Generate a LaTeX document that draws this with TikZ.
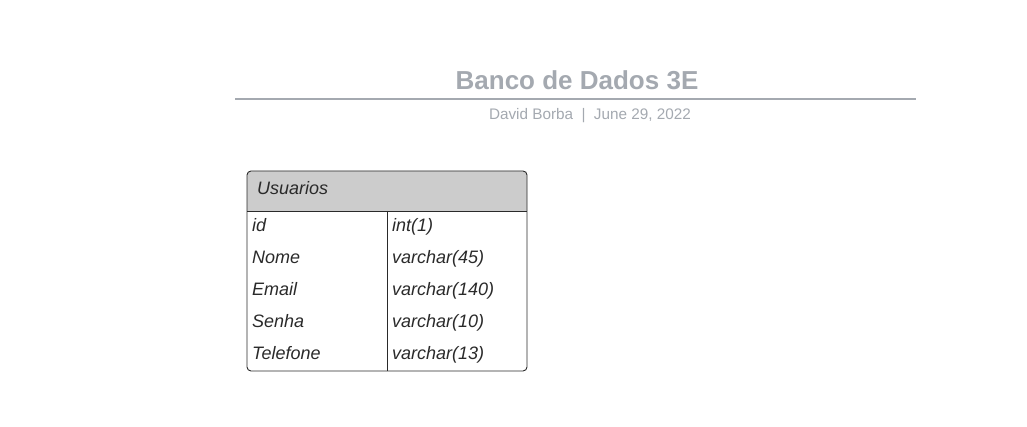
\documentclass[tikz,border=0pt]{standalone}
\usepackage{fontspec}
\setmainfont{Liberation Sans}
\definecolor{titlegray}{HTML}{A4A9B0}
\definecolor{hdrfill}{HTML}{CCCCCC}
\definecolor{ink}{HTML}{2A2A2A}
\begin{document}
\begin{tikzpicture}[x=1pt,y=-1pt,
  celltext/.style={anchor=base west,inner sep=0pt,text=ink,font=\fontsize{18}{21}\selectfont\itshape},
  titletext/.style={inner sep=0pt,anchor=base,text=titlegray,font=\fontsize{26}{30}\selectfont\bfseries},
  subtext/.style={inner sep=0pt,anchor=base,text=titlegray,font=\fontsize{15.3}{18}\selectfont}]
\useasboundingbox (0,0) rectangle (1027,427);
\node[titletext] (title) at (577,90) {Banco de Dados 3E};
\coordinate (ruleL) at (235,99);
\coordinate (ruleR) at (916,99);
\draw[titlegray,line width=1.6pt] (ruleL) -- (ruleR);
\node[subtext] (sub) at (590,120) {David Borba\hspace{0.55em}|\hspace{0.55em}June 29, 2022};
% table
\fill[hdrfill] (247,211) [rounded corners=4] -- (247,171) -- (527,171) [sharp corners] -- (527,211) -- cycle;
\draw[ink,line width=0.9pt,rounded corners=4] (247,171) rectangle (527,371);
\draw[ink,line width=0.9pt] (247,211) -- (527,211);
\draw[ink,line width=0.9pt] (387,211) -- (387,371);
\node[celltext] (hdr) at (257,195) {Usuarios};
\node[celltext] (f1) at (252,231.5) {id};
\node[celltext] (t1) at (392,231.5) {int(1)};
\node[celltext] (f2) at (252,263.5) {Nome};
\node[celltext] (t2) at (392,263.5) {varchar(45)};
\node[celltext] (f3) at (252,295.5) {Email};
\node[celltext] (t3) at (392,295.5) {varchar(140)};
\node[celltext] (f4) at (252,327.5) {Senha};
\node[celltext] (t4) at (392,327.5) {varchar(10)};
\node[celltext] (f5) at (252,359.5) {Telefone};
\node[celltext] (t5) at (392,359.5) {varchar(13)};
\end{tikzpicture}
\end{document}
